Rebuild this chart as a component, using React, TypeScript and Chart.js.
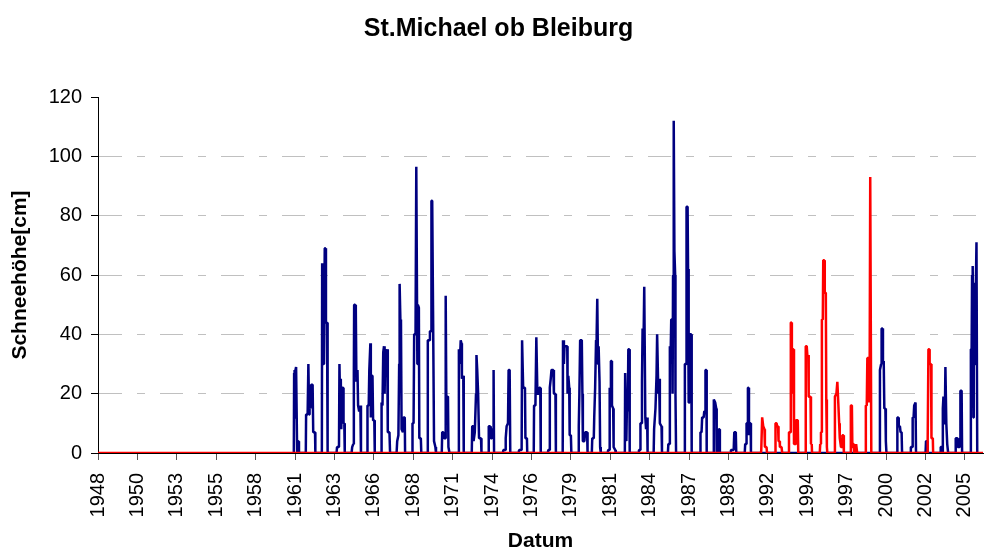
import React, { useEffect, useRef } from 'react';
import { Chart, registerables } from 'chart.js';

Chart.register(...registerables);

const chartTitle = 'St.Michael ob Bleiburg';
const yAxisTitle = 'Schneehöhe[cm]';
const xAxisTitle = 'Datum';
const tickLabels = ['1948', '1950', '1953', '1955', '1958', '1961', '1963', '1966', '1968', '1971', '1974', '1976', '1979', '1981', '1984', '1987', '1989', '1992', '1994', '1997', '2000', '2002', '2005'];
const axisStart = 1948;
const tickStep = 2.6;
const axisEnd = 2006.39;
const yTicks = [0, 20, 40, 60, 80, 100, 120];

type P = [number, number];

// Schneehöhe [cm] by axis year – blue series
const blue1960s: P[] = [
  [1960.92, 0], [1960.94, 27], [1960.97, 28], [1961.0, 12], [1961.03, 28], [1961.07, 29], [1961.12, 29], [1961.14, 0], [1961.17, 4], [1961.23, 4], [1961.26, 0],
  [1961.71, 0], [1961.73, 13], [1961.83, 13], [1961.88, 30], [1961.93, 13], [1961.96, 17], [1962.01, 15], [1962.06, 23], [1962.16, 23], [1962.2, 7], [1962.32, 7], [1962.34, 0],
  [1962.77, 0], [1962.79, 64], [1962.84, 30], [1962.91, 30], [1962.96, 69], [1963.0, 69], [1963.04, 44], [1963.11, 44], [1963.15, 0],
  [1963.74, 0], [1963.77, 2], [1963.9, 2], [1963.93, 30], [1963.97, 18], [1964.02, 25], [1964.05, 8], [1964.12, 22], [1964.18, 22], [1964.2, 10], [1964.25, 10], [1964.28, 0],
  [1964.73, 0], [1964.77, 2], [1964.84, 3], [1964.88, 26], [1964.9, 50], [1964.96, 50], [1965.01, 48], [1965.05, 24], [1965.12, 28], [1965.16, 16], [1965.23, 14], [1965.31, 16], [1965.35, 0],
  [1965.75, 0], [1965.78, 16], [1965.86, 16], [1965.9, 28], [1965.97, 37], [1966.0, 12], [1966.05, 26], [1966.11, 26], [1966.15, 11], [1966.23, 11], [1966.26, 0],
  [1966.68, 0], [1966.71, 17], [1966.77, 16], [1966.82, 34], [1966.87, 36], [1966.91, 20], [1966.95, 34], [1967.01, 33], [1967.08, 35], [1967.12, 7], [1967.23, 7], [1967.27, 0],
  [1967.7, 0], [1967.74, 4], [1967.82, 6], [1967.87, 30], [1967.9, 57], [1967.95, 45], [1967.99, 44], [1968.03, 8], [1968.12, 7], [1968.16, 12], [1968.24, 12], [1968.26, 0],
  [1968.72, 0], [1968.75, 10], [1968.82, 10], [1968.86, 40], [1968.95, 40], [1969.0, 96.5], [1969.04, 96.5], [1969.07, 30], [1969.1, 50], [1969.17, 49], [1969.2, 5], [1969.3, 5], [1969.33, 0],
  [1969.73, 0], [1969.76, 38], [1969.87, 38], [1969.9, 41], [1969.98, 41], [1970.0, 85], [1970.05, 85], [1970.11, 45], [1970.17, 4], [1970.26, 2], [1970.3, 0],
];

const blue1970s: P[] = [
  [1970.68, 0], [1970.71, 7], [1970.78, 7], [1970.83, 5], [1970.9, 5], [1970.94, 53], [1970.98, 19], [1971.09, 19], [1971.12, 2], [1971.19, 0],
  [1971.78, 0], [1971.81, 35], [1971.87, 30], [1971.93, 38], [1971.98, 37], [1972.01, 25], [1972.1, 26], [1972.13, 0],
  [1972.66, 0], [1972.69, 9], [1972.76, 9], [1972.78, 4], [1972.86, 7], [1972.94, 20], [1972.97, 33], [1973.02, 28], [1973.08, 20], [1973.14, 5], [1973.27, 5], [1973.3, 0],
  [1973.74, 0], [1973.77, 1], [1973.79, 9], [1973.87, 9], [1973.91, 5], [1973.99, 5], [1974.02, 8], [1974.08, 8], [1974.1, 28], [1974.13, 0],
  [1974.72, 0], [1974.74, 1], [1974.86, 1], [1974.9, 5], [1974.96, 9], [1975.05, 10], [1975.09, 28], [1975.16, 28], [1975.2, 0],
  [1975.76, 0], [1975.78, 1], [1975.95, 1], [1975.98, 38], [1976.02, 38], [1976.05, 22], [1976.17, 22], [1976.2, 5], [1976.3, 5], [1976.32, 0],
  [1976.75, 0], [1976.77, 16], [1976.86, 16], [1976.92, 39], [1976.96, 39], [1976.99, 20], [1977.07, 20], [1977.11, 22], [1977.18, 22], [1977.21, 0],
  [1977.68, 0], [1977.71, 1], [1977.79, 1], [1977.81, 22], [1977.87, 25], [1977.92, 28], [1978.04, 28], [1978.08, 20], [1978.18, 20], [1978.21, 0],
  [1978.66, 0], [1978.68, 38], [1978.74, 30], [1978.78, 36], [1978.96, 36], [1978.98, 20], [1979.03, 26], [1979.09, 22], [1979.12, 6], [1979.2, 6], [1979.23, 0],
];

const blue1980s: P[] = [
  [1979.69, 0], [1979.72, 9], [1979.76, 20], [1979.81, 38], [1979.92, 38], [1979.96, 20], [1979.99, 4], [1980.09, 4], [1980.14, 7], [1980.27, 7], [1980.3, 0],
  [1980.58, 0], [1980.61, 5], [1980.71, 5], [1980.74, 12], [1980.8, 22], [1980.86, 38], [1980.9, 40], [1980.94, 52], [1980.97, 52], [1980.99, 30], [1981.03, 36], [1981.09, 24], [1981.13, 2], [1981.17, 0],
  [1981.63, 0], [1981.66, 1], [1981.73, 1], [1981.76, 22], [1981.81, 16], [1981.84, 31], [1981.89, 31], [1981.91, 16], [1981.99, 15], [1982.02, 2], [1982.13, 1], [1982.16, 0],
  [1982.76, 0], [1982.78, 27], [1982.83, 27], [1982.86, 4], [1982.91, 20], [1982.95, 14], [1982.99, 35], [1983.05, 35], [1983.08, 0],
  [1983.66, 0], [1983.69, 1], [1983.77, 1], [1983.79, 10], [1983.86, 10], [1983.89, 24], [1983.93, 42], [1984.0, 40], [1984.04, 56], [1984.08, 56], [1984.11, 12], [1984.16, 8], [1984.23, 12], [1984.26, 0],
  [1984.66, 0], [1984.69, 8], [1984.74, 8], [1984.78, 15], [1984.85, 26], [1984.89, 40], [1984.93, 40], [1984.97, 20], [1985.02, 25], [1985.07, 10], [1985.18, 9], [1985.21, 0],
  [1985.6, 0], [1985.63, 3], [1985.69, 3], [1985.73, 36], [1985.77, 30], [1985.82, 45], [1985.88, 45], [1985.91, 20], [1985.94, 60], [1985.97, 112], [1986.0, 112], [1986.03, 68], [1986.08, 60], [1986.1, 20], [1986.14, 0],
  [1986.7, 0], [1986.72, 30], [1986.8, 30], [1986.83, 83], [1986.9, 83], [1986.93, 62], [1986.97, 17], [1987.03, 17], [1987.06, 40], [1987.14, 40], [1987.17, 0],
  [1987.73, 0], [1987.75, 7], [1987.82, 7], [1987.86, 12], [1987.96, 12], [1988.0, 14], [1988.06, 14], [1988.08, 28], [1988.14, 28], [1988.16, 0],
  [1988.61, 0], [1988.63, 18], [1988.72, 17], [1988.79, 15], [1988.82, 0], [1988.94, 0], [1988.96, 8], [1989.01, 8], [1989.03, 0],
];

const blue1990s: P[] = [
  [1989.73, 0], [1989.76, 1], [1989.94, 1], [1989.98, 7], [1990.08, 7], [1990.11, 0],
  [1990.67, 0], [1990.7, 3], [1990.76, 3], [1990.79, 10], [1990.86, 10], [1990.88, 22], [1990.92, 22], [1990.95, 6], [1991.01, 10], [1991.06, 10], [1991.08, 0],
];

const blue2000s: P[] = [
  [1999.57, 0], [1999.59, 28], [1999.67, 30], [1999.7, 42], [1999.76, 42], [1999.79, 31], [1999.84, 31], [1999.88, 15], [1999.95, 15], [1999.98, 4], [2000.02, 0],
  [2000.72, 0], [2000.74, 12], [2000.8, 12], [2000.83, 9], [2000.91, 9], [2000.95, 7], [2001.02, 7], [2001.05, 0],
  [2001.6, 0], [2001.63, 2], [2001.73, 2], [2001.75, 12], [2001.81, 12], [2001.85, 16], [2001.94, 17], [2001.97, 0],
  [2002.6, 0], [2002.63, 4], [2002.71, 4], [2002.73, 0],
  [2003.57, 0], [2003.6, 2], [2003.66, 2], [2003.69, 0], [2003.73, 0], [2003.75, 15], [2003.78, 19], [2003.82, 10], [2003.87, 12], [2003.91, 29], [2003.94, 29], [2003.97, 10], [2004.03, 3], [2004.07, 3], [2004.09, 0],
  [2004.57, 0], [2004.59, 5], [2004.7, 5], [2004.72, 2], [2004.85, 2], [2004.88, 5], [2004.9, 21], [2004.98, 21], [2005.01, 0],
  [2005.57, 0], [2005.59, 35], [2005.64, 35], [2005.67, 60], [2005.69, 63], [2005.73, 63], [2005.76, 12], [2005.78, 57], [2005.84, 57], [2005.88, 30], [2005.92, 57], [2005.96, 71], [2005.98, 71], [2006.01, 0],
];

// red series (highlighted winters)
const red1990s: P[] = [
  [1991.74, 0], [1991.76, 1], [1991.79, 1], [1991.82, 12], [1991.86, 12], [1991.89, 9], [1991.97, 8], [1992.0, 2], [1992.11, 2], [1992.14, 0],
  [1992.68, 0], [1992.7, 10], [1992.77, 10], [1992.81, 9], [1992.87, 9], [1992.9, 4], [1992.97, 4], [1992.99, 2], [1993.1, 2], [1993.14, 0],
  [1993.57, 0], [1993.59, 7], [1993.67, 7], [1993.71, 44], [1993.75, 44], [1993.78, 20], [1993.8, 35], [1993.89, 35], [1993.92, 3], [1994.02, 3], [1994.05, 11], [1994.17, 11], [1994.2, 0],
  [1994.66, 0], [1994.68, 20], [1994.71, 36], [1994.76, 36], [1994.8, 33], [1994.86, 33], [1994.89, 19], [1995.01, 19], [1995.04, 3], [1995.09, 3], [1995.11, 0],
  [1995.62, 0], [1995.65, 3], [1995.7, 7], [1995.73, 7], [1995.76, 45], [1995.82, 45], [1995.85, 65], [1995.92, 65], [1995.95, 54], [1996.02, 54], [1996.05, 18], [1996.09, 2], [1996.12, 0],
  [1996.6, 0], [1996.62, 19], [1996.72, 20], [1996.78, 24], [1996.81, 24], [1996.85, 16], [1996.9, 10], [1996.94, 5], [1997.02, 2], [1997.09, 2], [1997.11, 6], [1997.18, 6], [1997.21, 0],
  [1997.65, 0], [1997.67, 16], [1997.74, 16], [1997.77, 2], [1997.8, 3], [1997.86, 3], [1997.89, 0], [1998.0, 0], [1998.02, 3], [1998.07, 3], [1998.09, 0],
  [1998.64, 0], [1998.66, 16], [1998.72, 16], [1998.76, 32], [1998.83, 32], [1998.86, 17], [1998.91, 25], [1998.95, 93], [1998.99, 93], [1999.02, 0],
];

const red2000s: P[] = [
  [2002.7, 0], [2002.72, 4], [2002.76, 4], [2002.79, 35], [2002.85, 35], [2002.87, 30], [2002.96, 30], [2002.99, 5], [2003.08, 5], [2003.1, 0],
];

const FONT = "Arial, 'Liberation Sans', sans-serif";

export default function App() {
  const ref = useRef<HTMLCanvasElement>(null);

  useEffect(() => {
    const canvas = ref.current;
    if (!canvas) return;
    const toPts = (arr: P[]) => arr.map(([x, y]) => ({ x, y }));
    const redSeries: P[] = [[axisStart, 0], ...red1990s, ...red2000s, [axisEnd, 0]];
    const blueSeries: P[] = [...blue1960s, ...blue1970s, ...blue1980s, ...blue1990s, ...blue2000s];

    const chart = new Chart(canvas, {
      type: 'line',
      data: {
        datasets: [
          {
            label: 'rot',
            data: toPts(redSeries),
            borderColor: '#FF0000',
            borderWidth: 2.5,
            pointRadius: 0,
            borderJoinStyle: 'bevel',
            tension: 0,
            fill: false,
          },
          {
            label: 'blau',
            data: toPts(blueSeries),
            borderColor: '#000080',
            borderWidth: 2.5,
            pointRadius: 0,
            borderJoinStyle: 'bevel',
            tension: 0,
            fill: false,
          },
        ],
      },
      options: {
        responsive: false,
        animation: false,
        events: [],
        layout: { padding: { left: 14, right: 3, top: 0, bottom: 0 } },
        plugins: {
          legend: { display: false },
          tooltip: { enabled: false },
          title: {
            display: true,
            text: chartTitle,
            color: '#000',
            font: { family: FONT, size: 25, weight: 'bold', lineHeight: 1.2 },
            padding: { top: 14, bottom: 53 },
          },
        },
        scales: {
          x: {
            type: 'linear',
            min: axisStart,
            max: axisEnd,
            afterBuildTicks: (s: any) => {
              s.ticks = tickLabels.map((_, i) => ({ value: axisStart + i * tickStep }));
            },
            afterFit: (s: any) => {
              s.height = 96;
              s.paddingLeft = 0;
              s.paddingRight = 0;
            },
            ticks: {
              autoSkip: false,
              maxRotation: 90,
              minRotation: 90,
              padding: 13,
              color: '#000',
              font: { family: FONT, size: 20 },
              callback: (_v: any, i: number) => tickLabels[i],
            },
            grid: { drawOnChartArea: false, drawTicks: true, tickLength: 7, tickColor: '#555', color: '#555' },
            border: { display: true, color: '#000', width: 1 },
            title: {
              display: true,
              text: xAxisTitle,
              color: '#000',
              font: { family: FONT, size: 21, weight: 'bold', lineHeight: '16px' },
              padding: { top: 0, bottom: 0 },
            },
          },
          y: {
            type: 'linear',
            min: 0,
            max: 120,
            afterBuildTicks: (s: any) => {
              s.ticks = yTicks.map((v) => ({ value: v }));
            },
            afterFit: (s: any) => {
              s.width = 84;
              s.paddingTop = 0;
              s.paddingBottom = 0;
            },
            ticks: { padding: 9, color: '#000', font: { family: FONT, size: 20 } },
            grid: {
              color: (ctx: any) =>
                ctx.tick && (ctx.tick.value === 0 || ctx.tick.value === 120) ? 'rgba(0,0,0,0)' : '#c0c0c0',
              tickColor: '#000',
              tickLength: 7,
              lineWidth: 1,
            },
            border: { display: true, color: '#000', width: 1, dash: [23, 15, 8, 15] },
            title: {
              display: true,
              text: yAxisTitle,
              color: '#000',
              font: { family: FONT, size: 21, weight: 'bold', lineHeight: '12px' },
              padding: { top: 0, bottom: 0 },
            },
          },
        },
      },
    } as any);

    return () => chart.destroy();
  }, []);

  return (
    <canvas
      ref={ref}
      width={986}
      height={549}
      style={{ position: 'absolute', left: 0, top: 0, display: 'block' }}
    />
  );
}
